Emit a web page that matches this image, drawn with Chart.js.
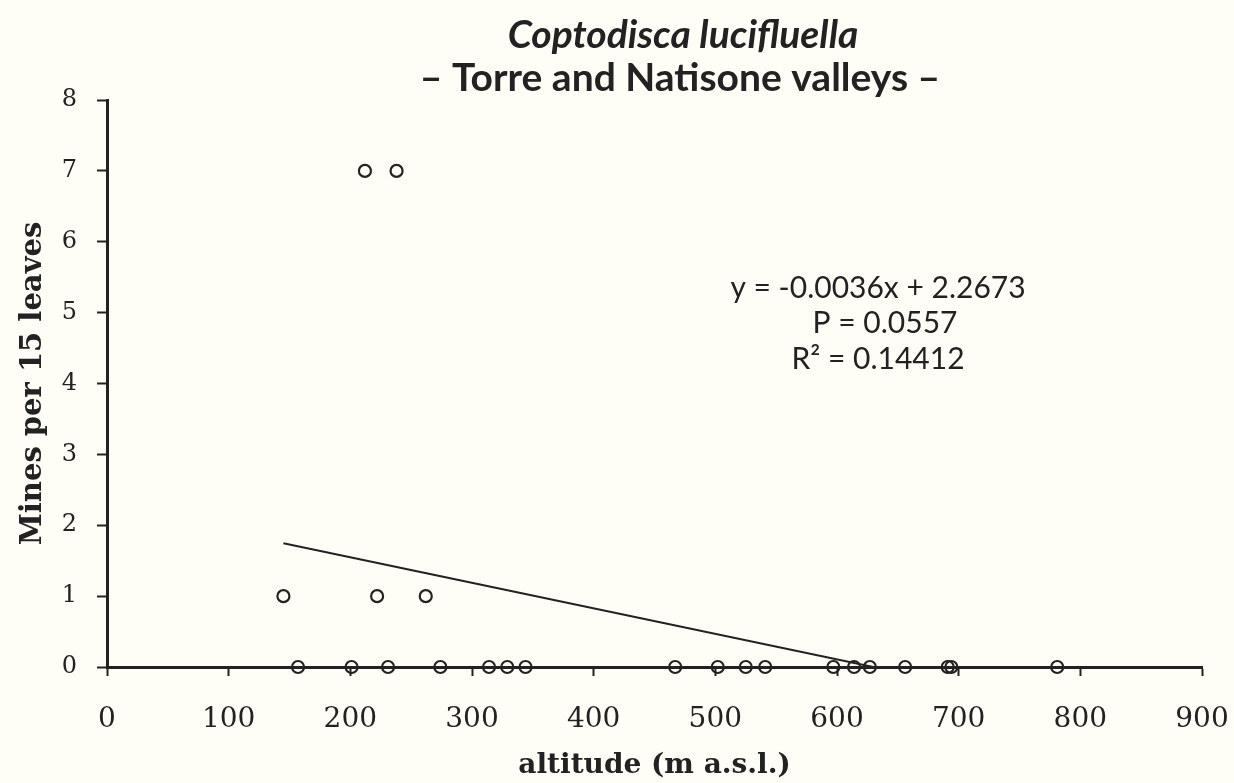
<!DOCTYPE html>
<html>
<head>
<meta charset="utf-8">
<script src="https://cdn.jsdelivr.net/npm/chart.js@4.4.1/dist/chart.umd.min.js"></script>
<style>
    html, body { margin: 0; padding: 0; background: #fffef6; }
    #wrap { width: 1234px; height: 783px; }
</style>
</head>
<body>
<div id="wrap"><canvas id="minesChart" width="1234" height="783"></canvas></div>
<script>
// sampled sites: altitude (m a.s.l.) and mines counted per 15 leaves
const altitudes = [145, 222, 262, 212, 238,
    157, 201, 231, 274, 314, 329, 344, 467, 502, 525, 541,
    597, 614, 627, 656, 691, 694, 781];
const mines = [1, 1, 1, 7, 7,
    0, 0, 0, 0, 0, 0, 0, 0, 0, 0, 0,
    0, 0, 0, 0, 0, 0, 0];

const xTicks = [0, 100, 200, 300, 400, 500, 600, 700, 800, 900];
const yTicks = [0, 1, 2, 3, 4, 5, 6, 7, 8];

// linear fit reported for the data
const slope = -0.0036;
const intercept = 2.2673;
const pValue = '0.0557';
const rSquared = '0.14412';

const titleLines = ['Coptodisca lucifluella', '\u2013 Torre and Natisone valleys \u2013'];

document.addEventListener('DOMContentLoaded', function() {
    const ctx = document.getElementById('minesChart').getContext('2d');

    const points = altitudes.map((a, i) => ({ x: a, y: mines[i] }));

    // fit drawn from the first site until it meets the x axis
    const fitStart = Math.min(...altitudes);
    const fitEnd = -intercept / slope;
    const fitLine = [
        { x: fitStart, y: slope * fitStart + intercept },
        { x: fitEnd, y: slope * fitEnd + intercept }
    ];

    const ink = '#222';
    const serif = '"DejaVu Serif", serif';
    const sans = 'Lato, "Open Sans", sans-serif';

    const background = {
        id: 'background',
        beforeDraw(chart) {
            const c = chart.ctx;
            c.save();
            c.fillStyle = '#fffef6';
            c.fillRect(0, 0, chart.width, chart.height);
            c.restore();
        }
    };

    const texts = {
        id: 'texts',
        afterDraw(chart) {
            const c = chart.ctx;
            c.save();
            c.fillStyle = ink;
            c.textAlign = 'center';
            c.textBaseline = 'middle';

            c.font = 'italic bold 39px ' + sans;
            c.fillText(titleLines[0], 683, 35);
            c.font = 'bold 39px ' + sans;
            c.fillText(titleLines[1], 680, 78);

            const sign = intercept >= 0 ? ' + ' : ' - ';
            c.font = '30px ' + sans;
            c.fillText('y = ' + slope.toFixed(4) + 'x' + sign + Math.abs(intercept).toFixed(4), 878, 288);
            c.fillText('P = ' + pValue, 885, 323);
            c.fillText('R\u00b2 = ' + rSquared, 878, 359);
            c.restore();
        }
    };

    const chartConfig = {
        type: 'scatter',
        data: {
            datasets: [{
                label: 'sites',
                data: points,
                borderColor: ink,
                backgroundColor: 'rgba(0,0,0,0)',
                pointRadius: 6,
                pointBorderWidth: 2.2,
                pointHoverRadius: 6,
                clip: false
            }, {
                label: 'fit',
                type: 'line',
                data: fitLine,
                borderColor: ink,
                borderWidth: 2,
                pointRadius: 0,
                fill: false
            }]
        },
        options: {
            responsive: false,
            animation: false,
            layout: {
                padding: { top: 100, right: 32, left: 0, bottom: 0 }
            },
            plugins: {
                legend: { display: false },
                tooltip: { enabled: false }
            },
            scales: {
                x: {
                    type: 'linear',
                    min: 0,
                    max: 900,
                    afterFit: scale => {
                        scale.height = 116;
                        // the layout padding already leaves room for the last label
                        scale.paddingLeft = 0;
                        scale.paddingRight = 0;
                    },
                    afterBuildTicks: scale => { scale.ticks = xTicks.map(v => ({ value: v })); },
                    ticks: {
                        color: ink,
                        padding: 27,
                        font: { family: serif, size: 28 }
                    },
                    grid: {
                        drawOnChartArea: false,
                        tickLength: 9,
                        tickColor: ink,
                        tickWidth: 2
                    },
                    border: { color: ink, width: 3 },
                    title: {
                        display: true,
                        text: 'altitude (m a.s.l.)',
                        color: ink,
                        padding: { top: 0, bottom: 0 },
                        font: { family: serif, size: 28, weight: 'bold' }
                    }
                },
                y: {
                    min: 0,
                    max: 8,
                    afterFit: scale => { scale.width = 107; },
                    afterBuildTicks: scale => { scale.ticks = yTicks.map(v => ({ value: v })); },
                    ticks: {
                        color: ink,
                        padding: 20,
                        font: { family: serif, size: 24 }
                    },
                    grid: {
                        drawOnChartArea: false,
                        tickLength: 10,
                        tickColor: ink,
                        tickWidth: 2
                    },
                    border: { color: ink, width: 3 },
                    title: {
                        display: true,
                        text: 'Mines per 15 leaves',
                        color: ink,
                        padding: { top: 16, bottom: 0 },
                        font: { family: serif, size: 29, weight: 'bold' }
                    }
                }
            }
        },
        plugins: [background, texts]
    };

    new Chart(ctx, chartConfig);
});
</script>
</body>
</html>
